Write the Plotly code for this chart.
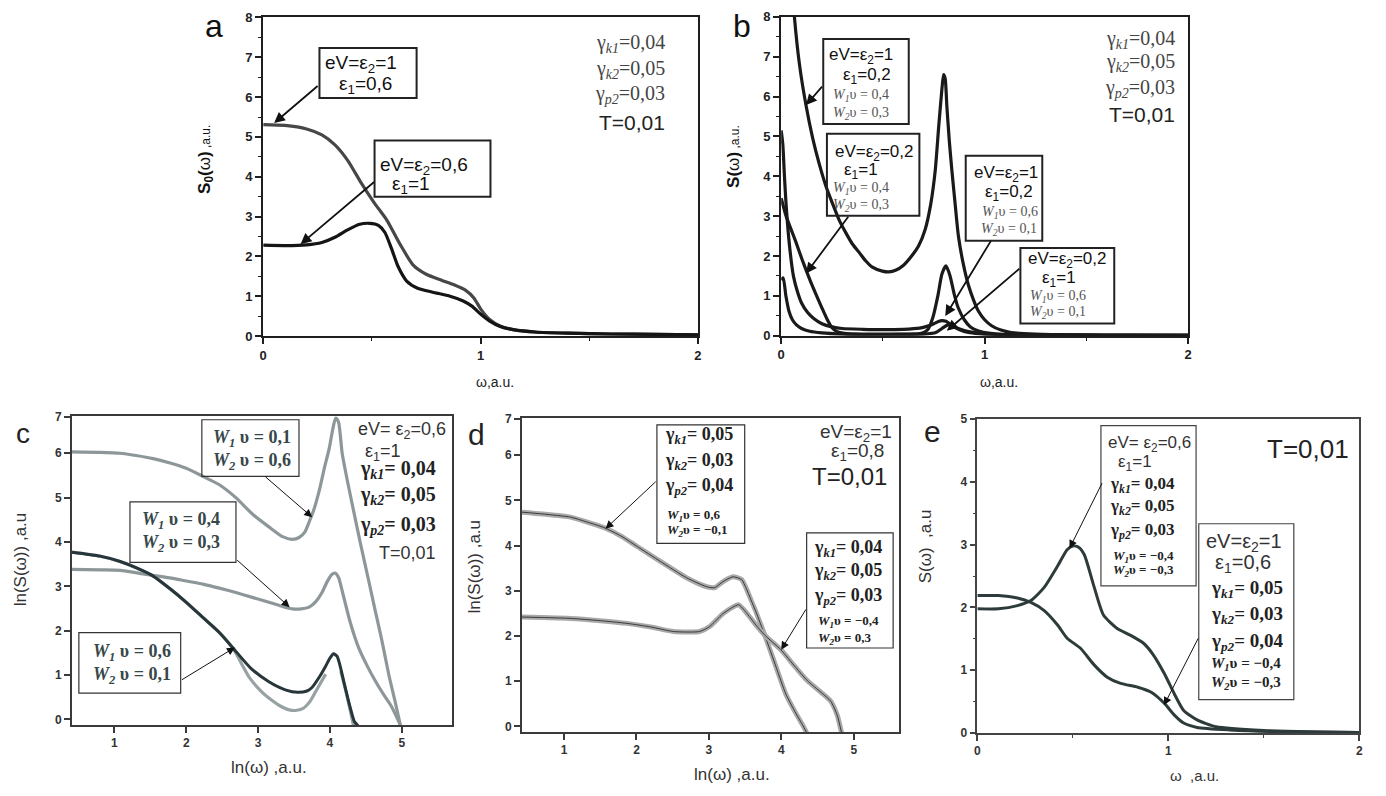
import plotly.graph_objects as go

W, H = 1386, 796

# ---------------- data ----------------
# panel a : S0(omega)
a1_x = [0, 0.1, 0.2, 0.27, 0.33, 0.39, 0.45, 0.51, 0.57, 0.63, 0.69, 0.75, 0.82, 0.88, 0.93, 0.97, 1.0, 1.04, 1.09, 1.15, 1.25, 1.4, 1.6, 1.8, 2.0]
a1_y = [5.31, 5.29, 5.2, 5.05, 4.8, 4.4, 3.85, 3.35, 2.9, 2.3, 1.78, 1.55, 1.4, 1.28, 1.15, 0.95, 0.68, 0.42, 0.25, 0.16, 0.1, 0.07, 0.05, 0.04, 0.03]
a2_x = [0, 0.1, 0.2, 0.27, 0.33, 0.39, 0.44, 0.49, 0.53, 0.56, 0.59, 0.62, 0.66, 0.71, 0.78, 0.86, 0.92, 0.96, 1.0, 1.04, 1.09, 1.15, 1.25, 1.4, 1.6, 1.8, 2.0]
a2_y = [2.28, 2.27, 2.29, 2.35, 2.48, 2.67, 2.8, 2.83, 2.78, 2.6, 2.2, 1.75, 1.38, 1.2, 1.1, 1.0, 0.88, 0.75, 0.55, 0.38, 0.24, 0.16, 0.1, 0.07, 0.05, 0.04, 0.03]

# panel b : S(omega)
b1_x = [0.045, 0.065, 0.09, 0.122, 0.155, 0.187, 0.22, 0.252, 0.285, 0.318, 0.35, 0.383, 0.415, 0.448, 0.497, 0.53, 0.562, 0.6, 0.643, 0.675, 0.708, 0.735, 0.757, 0.775, 0.79, 0.798, 0.806, 0.814, 0.826, 0.839, 0.855, 0.871, 0.895, 0.92, 0.945, 0.969, 1.0, 1.034, 1.08, 1.13, 1.25, 1.46, 1.7, 2.0]
b1_y = [9.5, 8.0, 6.8, 5.78, 4.95, 4.31, 3.75, 3.32, 2.9, 2.58, 2.3, 2.09, 1.88, 1.72, 1.62, 1.6, 1.64, 1.76, 2.01, 2.25, 2.67, 3.3, 4.14, 5.3, 6.19, 6.55, 6.45, 5.78, 4.9, 4.14, 3.3, 2.5, 1.8, 1.27, 0.9, 0.62, 0.4, 0.25, 0.14, 0.08, 0.04, 0.02, 0.015, 0.01]
b2_x = [0, 0.008, 0.016, 0.024, 0.04, 0.06, 0.08, 0.1, 0.13, 0.16, 0.2, 0.25, 0.3, 0.4, 0.5, 0.6, 0.68, 0.72, 0.75, 0.77, 0.79, 0.81, 0.83, 0.86, 0.9, 0.95, 1.0, 1.1, 1.3, 1.6, 2.0]
b2_y = [5.15, 4.8, 4.0, 3.3, 2.3, 1.5, 1.1, 0.82, 0.58, 0.43, 0.3, 0.22, 0.18, 0.16, 0.15, 0.16, 0.19, 0.24, 0.3, 0.35, 0.38, 0.36, 0.29, 0.2, 0.13, 0.08, 0.05, 0.03, 0.02, 0.01, 0.01]
b3_x = [0, 0.024, 0.05, 0.073, 0.1, 0.122, 0.145, 0.17, 0.2, 0.225, 0.25, 0.275, 0.31, 0.4, 0.5, 0.62, 0.69, 0.72, 0.745, 0.77, 0.79, 0.81, 0.83, 0.85, 0.87, 0.9, 0.93, 0.97, 1.03, 1.1, 1.3, 1.6, 2.0]
b3_y = [3.45, 3.0, 2.65, 2.34, 1.95, 1.65, 1.35, 1.05, 0.7, 0.42, 0.2, 0.1, 0.06, 0.04, 0.04, 0.04, 0.06, 0.15, 0.45, 1.0, 1.55, 1.75, 1.5, 1.05, 0.7, 0.4, 0.22, 0.12, 0.06, 0.03, 0.02, 0.01, 0.01]
b4_x = [0, 0.01, 0.023, 0.038, 0.055, 0.075, 0.1, 0.14, 0.2, 0.3, 0.4, 0.55, 0.7, 0.76, 0.79, 0.82, 0.85, 0.88, 0.92, 0.97, 1.05, 1.2, 1.5, 2.0]
b4_y = [1.4, 1.45, 1.0, 0.62, 0.4, 0.27, 0.18, 0.11, 0.07, 0.04, 0.03, 0.03, 0.04, 0.08, 0.18, 0.27, 0.22, 0.14, 0.08, 0.05, 0.03, 0.02, 0.01, 0.01]

# panel c : ln(S(omega)) vs ln(omega)
c1_x = [0.41, 0.8, 1.08, 1.3, 1.54, 1.8, 2.0, 2.23, 2.46, 2.69, 2.92, 3.15, 3.34, 3.48, 3.57, 3.65, 3.71, 3.78, 3.85, 3.92, 3.99, 4.04, 4.08, 4.12, 4.17, 4.24, 4.31, 4.42, 4.54, 4.63, 4.72, 4.82, 4.9, 4.98]
c1_y = [6.03, 6.02, 6.0, 5.95, 5.88, 5.77, 5.66, 5.48, 5.29, 5.0, 4.63, 4.34, 4.12, 4.06, 4.1, 4.22, 4.45, 4.75, 5.15, 5.65, 6.11, 6.55, 6.8, 6.7, 6.0, 5.4, 4.85, 4.0, 3.12, 2.45, 1.8, 1.0, 0.45, -0.13]
c2_x = [0.41, 0.8, 1.08, 1.4, 1.77, 2.0, 2.23, 2.46, 2.69, 2.92, 3.15, 3.35, 3.48, 3.6, 3.71, 3.8, 3.89, 3.96, 4.03, 4.07, 4.12, 4.17, 4.28, 4.4, 4.52, 4.63, 4.75, 4.86, 4.98]
c2_y = [3.38, 3.37, 3.36, 3.28, 3.19, 3.12, 3.05, 2.96, 2.86, 2.75, 2.64, 2.54, 2.49, 2.49, 2.53, 2.65, 2.86, 3.1, 3.27, 3.3, 3.2, 2.9, 2.2, 1.61, 1.2, 0.87, 0.55, 0.28, -0.13]
c3_x = [0.41, 0.8, 1.08, 1.3, 1.54, 1.77, 2.0, 2.23, 2.46, 2.65, 2.9, 3.15, 3.39, 3.55, 3.68, 3.75, 3.85, 3.94, 4.0, 4.05, 4.1, 4.15, 4.2, 4.28, 4.34, 4.4]
c3_y = [3.77, 3.68, 3.56, 3.42, 3.23, 2.95, 2.64, 2.3, 1.96, 1.61, 1.15, 0.85, 0.66, 0.61, 0.64, 0.72, 0.95, 1.2, 1.38, 1.48, 1.42, 1.15, 0.8, 0.28, -0.05, -0.16]
c4_x = [0.41, 0.8, 1.08, 1.3, 1.54, 1.77, 2.0, 2.23, 2.46, 2.65, 2.88, 3.05, 3.2, 3.32, 3.42, 3.52, 3.62, 3.72, 3.82, 3.94, None, 4.15, 4.22, 4.28, 4.33]
c4_y = [3.77, 3.68, 3.56, 3.42, 3.23, 2.95, 2.64, 2.3, 1.96, 1.6, 0.94, 0.62, 0.42, 0.29, 0.22, 0.2, 0.24, 0.4, 0.68, 1.02, None, 1.09, 0.65, 0.22, -0.16]

# panel d
d1_x = [0.42, 0.7, 1.09, 1.3, 1.55, 1.8, 2.01, 2.33, 2.69, 2.97, 3.08, 3.19, 3.33, 3.45, 3.51, 3.58, 3.65, 3.77, 3.93, 4.06, 4.2, 4.29, 4.35]
d1_y = [4.74, 4.7, 4.63, 4.53, 4.4, 4.2, 3.98, 3.65, 3.29, 3.09, 3.07, 3.2, 3.31, 3.25, 3.07, 2.8, 2.53, 2.02, 1.3, 0.72, 0.29, 0.04, -0.14]
d2_x = [0.42, 0.7, 1.09, 1.5, 1.87, 2.2, 2.51, 2.87, 3.01, 3.19, 3.33, 3.41, 3.51, 3.65, 3.77, 3.99, 4.2, 4.36, 4.55, 4.68, 4.77, 4.83]
d2_y = [2.42, 2.41, 2.39, 2.34, 2.28, 2.2, 2.1, 2.1, 2.21, 2.49, 2.64, 2.69, 2.53, 2.24, 2.02, 1.7, 1.3, 1.01, 0.75, 0.56, 0.25, -0.14]

# panel e
e1_x = [0, 0.11, 0.21, 0.28, 0.35, 0.42, 0.47, 0.5, 0.53, 0.56, 0.61, 0.66, 0.73, 0.8, 0.87, 0.92, 0.98, 1.03, 1.08, 1.15, 1.25, 1.5, 1.75, 2.0]
e1_y = [1.98, 1.98, 2.03, 2.11, 2.32, 2.66, 2.92, 2.98, 2.96, 2.84, 2.34, 1.88, 1.67, 1.56, 1.43, 1.25, 0.94, 0.63, 0.36, 0.21, 0.1, 0.04, 0.02, 0.01]
e2_x = [0, 0.11, 0.21, 0.28, 0.35, 0.42, 0.47, 0.54, 0.61, 0.68, 0.75, 0.84, 0.91, 0.98, 1.03, 1.08, 1.15, 1.32, 1.6, 2.0]
e2_y = [2.19, 2.19, 2.15, 2.08, 1.95, 1.72, 1.51, 1.35, 1.09, 0.89, 0.79, 0.73, 0.65, 0.47, 0.29, 0.16, 0.09, 0.05, 0.02, 0.01]

ticks_c = [0, 1, 2, 3, 4, 5, 6, 6.82]
ticks_d = [0, 1, 2, 3, 4, 5, 6, 6.81]
ticks_ln_text = ["0", "1", "2", "3", "4", "5", "6", "7"]

# ---------------- helpers ----------------
def px(x):
    return x / W

def py(y):
    return 1 - y / H

SANS = "Liberation Sans"
SERIF = "Liberation Serif"

fig = go.Figure()

def line(x, y, ax, color, width, shape="spline"):
    fig.add_trace(go.Scatter(x=x, y=y, xaxis=ax[0], yaxis=ax[1], mode="lines",
                             line=dict(color=color, width=width, shape=shape, smoothing=0.6),
                             hoverinfo="skip", showlegend=False, connectgaps=False))

A = ("x", "y"); B = ("x2", "y2"); C = ("x3", "y3"); D = ("x4", "y4"); E = ("x5", "y5")

line(a1_x, a1_y, A, "#474747", 3.2)
line(a2_x, a2_y, A, "#151515", 3.2)
for xs, ys in [(b1_x, b1_y), (b2_x, b2_y), (b3_x, b3_y), (b4_x, b4_y)]:
    line(xs, ys, B, "#1a1a1a", 3.2)
line(c1_x, c1_y, C, "#8d979a", 3.2)
line(c2_x, c2_y, C, "#8d979a", 3.2)
line(c4_x, c4_y, C, "#98a2a4", 3.2)
line(c3_x, c3_y, C, "#27363a", 3.0)
for xs, ys in [(d1_x, d1_y), (d2_x, d2_y)]:
    line(xs, ys, D, "#a9a9a9", 5.0)
    line(xs, ys, D, "#3a3a3a", 1.0)
line(e1_x, e1_y, E, "#2e3b3b", 3.0)
line(e2_x, e2_y, E, "#2e3b3b", 3.0)

def axis_style(dom, rng, dtick=None, tickvals=None, ticktext=None, minor=None,
               lc="#1e1e1e", lw=2.0, anchor=None, fsize=12, fcolor="#222"):
    d = dict(domain=dom, range=rng, showline=True, linecolor=lc, linewidth=lw, mirror=True,
             ticks="outside", ticklen=6, tickwidth=1.5, tickcolor=lc, showgrid=False, zeroline=False,
             tickfont=dict(family=SANS, size=fsize, color=fcolor, weight="bold"), anchor=anchor,
             fixedrange=True)
    if dtick is not None:
        d["dtick"] = dtick
        d["tick0"] = 0
    if tickvals is not None:
        d["tickmode"] = "array"
        d["tickvals"] = tickvals
        d["ticktext"] = ticktext
    if minor is not None:
        d["minor"] = dict(dtick=minor, tick0=0, ticks="outside", ticklen=3, tickwidth=1.2, tickcolor=lc)
    return d

lay = dict(width=W, height=H, margin=dict(l=0, r=0, t=0, b=0), paper_bgcolor="white",
           plot_bgcolor="white", showlegend=False)
lay["xaxis"] = axis_style([px(260.7), px(698)], [0, 2], dtick=1, minor=0.5, anchor="y", fsize=13)
lay["yaxis"] = axis_style([py(335.3), py(10.7)], [0, 8], dtick=1, minor=0.5, anchor="x", fsize=13)
lay["xaxis2"] = axis_style([px(781.7), px(1191)], [0, 2], dtick=1, minor=0.5, anchor="y2", fsize=13)
lay["yaxis2"] = axis_style([py(335), py(10)], [0, 8], dtick=1, minor=0.5, anchor="x2", fsize=13)
lay["xaxis3"] = axis_style([px(68.4), px(450.7)], [0.41, 5.7], dtick=1, anchor="y3", lc="#3a3a3a", lw=1.8, fcolor="#333")
lay["yaxis3"] = axis_style([py(731.7), py(417.3)], [-0.125, 6.83], tickvals=ticks_c, ticktext=ticks_ln_text, anchor="x3", lc="#3a3a3a", lw=1.8, fcolor="#333")
lay["xaxis4"] = axis_style([px(521), px(900)], [0.42, 5.62], dtick=1, anchor="y4", lc="#3a3a3a", lw=1.8, fcolor="#333")
lay["yaxis4"] = axis_style([py(739), py(419)], [-0.124, 6.82], tickvals=ticks_d, ticktext=ticks_ln_text, anchor="x4", lc="#3a3a3a", lw=1.8, fcolor="#333")
lay["xaxis5"] = axis_style([px(979), px(1363.3)], [0, 2], dtick=1, minor=0.5, anchor="y5", lc="#444", lw=1.6, fcolor="#333")
lay["yaxis5"] = axis_style([py(740), py(420)], [0, 5], dtick=1, minor=0.5, anchor="x5", lc="#444", lw=1.6, fcolor="#333")
fig.update_layout(**lay)

annots = []
shapes = []

def txt(x, y, text, size, family=SANS, color="#111", anchor="left", angle=0):
    annots.append(dict(x=px(x), y=py(y), xref="paper", yref="paper", text=text, showarrow=False,
                       xanchor=anchor, yanchor="middle", textangle=angle,
                       font=dict(family=family, size=size, color=color)))

def box(x0, y0, x1, y1, color="#222", width=1.5):
    shapes.append(dict(type="rect", xref="paper", yref="paper", x0=px(x0), x1=px(x1),
                       y0=py(y1), y1=py(y0), line=dict(color=color, width=width), fillcolor="rgba(0,0,0,0)"))

def arrow(tx, ty, hx, hy, color="#111", width=1.5, size=1.2):
    annots.append(dict(x=px(hx), y=py(hy), xref="paper", yref="paper", text="", showarrow=True,
                       ax=tx - hx, ay=ty - hy, arrowhead=2, arrowsize=size, arrowwidth=width,
                       arrowcolor=color, standoff=0, startstandoff=0))

def gam(k, val, bold=False):
    s = "γ<sub><i>%s</i></sub>=%s" % (k, val)
    return "<b>%s</b>" % s if bold else s

def wv(i, val, bold=False, sp=""):
    s = "<i>W</i><sub><i>%s</i></sub>%sυ = %s" % (i, sp, val)
    return "<b>%s</b>" % s if bold else s

# ---- panel a ----
txt(211.5, 19, "a", 32, anchor="center", color="#111")
box(317.3, 41.7, 415, 92.7, width=2)
txt(321, 58.3, "eV=ε<sub>2</sub>=1", 19)
txt(335, 80, "ε<sub>1</sub>=0,6", 19)
arrow(316.7, 80, 271.7, 118.3, width=1.8)
box(372.7, 136, 489.3, 193.3, width=2)
txt(376.5, 161.7, "eV=ε<sub>2</sub>=0,6", 19)
txt(388, 181.7, "ε<sub>1</sub>=1", 19)
arrow(373.3, 178.3, 298.3, 241.7, width=1.8)
txt(667, 36.7, gam("k1", "0,04"), 20, family=SERIF, color="#444", anchor="right")
txt(667, 63.3, gam("k2", "0,05"), 20, family=SERIF, color="#444", anchor="right")
txt(667, 89.3, gam("p2", "0,03"), 20, family=SERIF, color="#444", anchor="right")
txt(667, 117.3, "T=0,01", 21, color="#222", anchor="right")
txt(203, 155, "<b>S<sub>0</sub>(</b>ω<b>)</b><span style='font-size:12px'> ,a.u.</span>", 17, angle=-90, anchor="center")
txt(494, 382, "ω,a.u.", 14, anchor="center", color="#222")

# ---- panel b ----
txt(742, 19, "b", 32, anchor="center", color="#111")
box(824, 32.7, 910, 119.3, width=2)
txt(828, 50, "eV=ε<sub>2</sub>=1", 17)
txt(841.7, 70, "ε<sub>1</sub>=0,2", 17)
txt(831.7, 90, wv("1", "0,4"), 14, family=SERIF, color="#555")
txt(831.7, 108.3, wv("2", "0,3"), 14, family=SERIF, color="#555")
arrow(824, 80, 806.7, 100, width=1.8)
box(827.7, 129.3, 920.7, 212.7, width=2)
txt(833.5, 148.3, "eV=ε<sub>2</sub>=0,2", 17)
txt(843.3, 166.7, "ε<sub>1</sub>=1", 17)
txt(831.7, 185, wv("1", "0,4"), 14, family=SERIF, color="#555")
txt(831.7, 202.7, wv("2", "0,3"), 14, family=SERIF, color="#555")
arrow(850, 213.3, 806.7, 271.7, width=1.8)
box(967.3, 151.7, 1044.3, 238.3, width=2)
txt(973.5, 170, "eV=ε<sub>2</sub>=1", 17)
txt(985, 190, "ε<sub>1</sub>=0,2", 17)
txt(981.7, 209.3, wv("1", "0,6"), 14, family=SERIF, color="#555")
txt(981, 226.7, wv("2", "0,1"), 14, family=SERIF, color="#555")
arrow(993.3, 238.3, 946.7, 315, width=1.8)
box(1022.3, 245.7, 1116.7, 322.7, width=2)
txt(1028, 258.3, "eV=ε<sub>2</sub>=0,2", 17)
txt(1041.7, 277.5, "ε<sub>1</sub>=1", 17)
txt(1030, 295, wv("1", "0,6"), 14, family=SERIF, color="#555")
txt(1030, 311.7, wv("2", "0,1"), 14, family=SERIF, color="#555")
arrow(1022.3, 266.7, 948.3, 330, width=1.8)
txt(1180, 33.3, gam("k1", "0,04"), 20, family=SERIF, color="#444", anchor="right")
txt(1180, 56.7, gam("k2", "0,05"), 20, family=SERIF, color="#444", anchor="right")
txt(1180, 83.3, gam("p2", "0,03"), 20, family=SERIF, color="#444", anchor="right")
txt(1180, 110, "T=0,01", 21, color="#222", anchor="right")
txt(733, 152, "<b>S(</b>ω<b>)</b><span style='font-size:12px'> ,a.u.</span>", 17, angle=-90, anchor="center")
txt(1001, 382, "ω,a.u.", 14, anchor="center", color="#222")

# ---- panel c ----
WC = "#37474a"
txt(19, 435, "c", 28, anchor="center", color="#222")
box(199, 420.7, 296.7, 478.3, color="#333", width=1.2)
txt(208, 440, wv("1", "0,1", bold=True, sp=" "), 18, family=SERIF, color=WC)
txt(208, 463.3, wv("2", "0,6", bold=True, sp=" "), 18, family=SERIF, color=WC)
arrow(261.7, 478.3, 310, 520, width=1, size=1.6)
box(126.7, 504.3, 233.3, 566, color="#333", width=1.2)
txt(136.5, 523.3, wv("1", "0,4", bold=True, sp=" "), 18, family=SERIF, color=WC)
txt(136.5, 546.7, wv("2", "0,3", bold=True, sp=" "), 18, family=SERIF, color=WC)
arrow(233.3, 563.3, 287.3, 611.7, width=1, size=1.6)
box(75.3, 637.7, 177.7, 699.3, color="#333", width=1.2)
txt(88, 658.3, wv("1", "0,6", bold=True, sp=" "), 18, family=SERIF, color=WC)
txt(88, 681.7, wv("2", "0,1", bold=True, sp=" "), 18, family=SERIF, color=WC)
arrow(177.7, 686, 232.3, 652.7, width=1, size=1.6)
txt(447, 431.7, "eV= ε<sub>2</sub>=0,6", 18, color="#333", anchor="right")
txt(361, 454, "ε<sub>1</sub>=1", 18, color="#333")
txt(437, 471, gam("k1", " 0,04", bold=True), 20, family=SERIF, color="#222", anchor="right")
txt(437, 498.3, gam("k2", " 0,05", bold=True), 20, family=SERIF, color="#222", anchor="right")
txt(437, 528.3, gam("p2", " 0,03", bold=True), 20, family=SERIF, color="#222", anchor="right")
txt(437, 556.7, "T=0,01", 18, color="#333", anchor="right")
txt(16, 563, "ln(S(ω)) ,a.u", 17, angle=-90, anchor="center", color="#333")
txt(267, 775, "ln(ω) ,a.u.", 17, anchor="center", color="#333")

# ---- panel d ----
txt(475.5, 436, "d", 30, anchor="center", color="#222")
box(656.7, 426, 745, 546.7, color="#333", width=1.2)
txt(663, 436.7, gam("k1", " 0,05", bold=True), 18, family=SERIF, color="#222")
txt(663, 463.3, gam("k2", " 0,03", bold=True), 18, family=SERIF, color="#222")
txt(663, 488.3, gam("p2", " 0,04", bold=True), 18, family=SERIF, color="#222")
txt(665, 518.3, wv("1", "0,6", bold=True), 13, family=SERIF, color="#222")
txt(665, 534, wv("2", "−0,1", bold=True), 13, family=SERIF, color="#222")
arrow(656.7, 483.3, 605, 531.7, width=1, size=1.6)
box(807.3, 536, 894.3, 653.3, color="#333", width=1.2)
txt(813, 551.7, gam("k1", " 0,04", bold=True), 18, family=SERIF, color="#222")
txt(813, 575.7, gam("k2", " 0,05", bold=True), 18, family=SERIF, color="#222")
txt(813, 600.7, gam("p2", " 0,03", bold=True), 18, family=SERIF, color="#222")
txt(816.5, 626.7, wv("1", "−0,4", bold=True), 13, family=SERIF, color="#222")
txt(816.5, 644, wv("2", "0,3", bold=True), 13, family=SERIF, color="#222")
arrow(807.3, 613.3, 781.7, 655, width=1, size=1.6)
txt(895, 434, "eV=ε<sub>2</sub>=1", 19, color="#333", anchor="right")
txt(830, 454, "ε<sub>1</sub>=0,8", 19, color="#333")
txt(890, 478.3, "T=0,01", 24, color="#222", anchor="right")
txt(473, 570, "ln(S(ω)) ,a.u", 17, angle=-90, anchor="center", color="#333")
txt(732, 782, "ln(ω) ,a.u.", 17, anchor="center", color="#333")

# ---- panel e ----
txt(934, 433, "e", 30, anchor="center", color="#222")
box(1103.3, 426.7, 1199, 590, color="#444", width=1.2)
txt(1108, 445, "eV= ε<sub>2</sub>=0,6", 17, color="#333")
txt(1118, 465, "ε<sub>1</sub>=1", 17, color="#333")
txt(1110, 486.7, gam("k1", " 0,04", bold=True), 17, family=SERIF, color="#222")
txt(1110, 510, gam("k2", " 0,05", bold=True), 17, family=SERIF, color="#222")
txt(1110, 534, gam("p2", " 0,03", bold=True), 17, family=SERIF, color="#222")
txt(1113, 560, wv("1", "−0,4", bold=True), 13, family=SERIF, color="#222")
txt(1113, 574.3, wv("2", "−0,3", bold=True), 13, family=SERIF, color="#222")
arrow(1105, 485, 1071.7, 551.7, width=1, size=1.6)
box(1201.7, 526.7, 1297.3, 706, color="#444", width=1.2)
txt(1206.5, 545.5, "eV=ε<sub>2</sub>=1", 20, color="#333")
txt(1216.5, 567.5, "ε<sub>1</sub>=0,6", 20, color="#333")
txt(1211.5, 593.3, gam("k1", " 0,05", bold=True), 19, family=SERIF, color="#222")
txt(1211.5, 620, gam("k2", " 0,03", bold=True), 19, family=SERIF, color="#222")
txt(1211.5, 647.3, gam("p2", " 0,04", bold=True), 19, family=SERIF, color="#222")
txt(1211.5, 669.3, wv("1", "−0,4", bold=True), 15, family=SERIF, color="#222")
txt(1211.5, 689.3, wv("2", "−0,3", bold=True), 15, family=SERIF, color="#222")
arrow(1201.7, 643.3, 1166.7, 711.7, width=1, size=1.6)
txt(1355, 450, "T=0,01", 26, color="#222", anchor="right")
txt(927, 550, "S(ω)  ,a.u", 17, angle=-90, anchor="center", color="#333")
txt(1197, 783, "ω  ,a.u.", 15, anchor="center", color="#333")

fig.update_layout(annotations=annots, shapes=shapes)
fig.write_html("out.html", config={"displayModeBar": False},
               post_script="document.body.style.margin='0';document.body.style.overflow='hidden';")
